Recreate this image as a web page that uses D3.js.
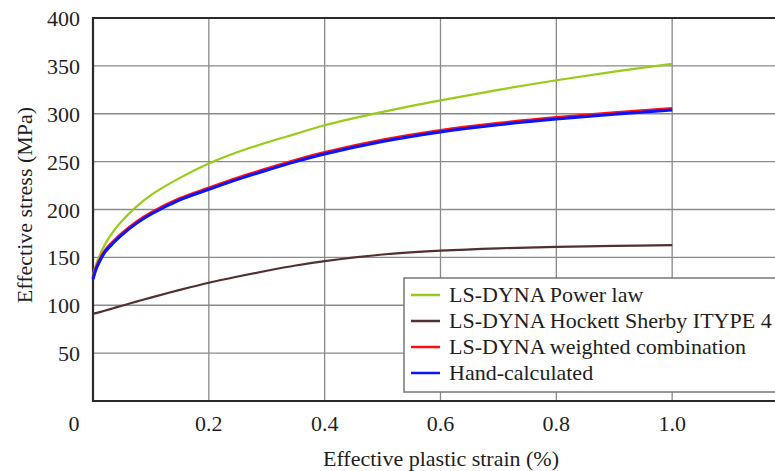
<!DOCTYPE html>
<html>
<head>
<meta charset="utf-8">
<script src="https://cdn.jsdelivr.net/npm/d3@7"></script>
<style>
  body { margin: 0; background: #fff; }
  svg { display: block; }
  text { font-family: "Liberation Serif", "DejaVu Serif", serif; fill: #1e1e1e; }
</style>
</head>
<body>
<svg width="775" height="471"></svg>
<script>
// strain values (%) shared by the curves
var strain = [0, 0.005, 0.01, 0.02, 0.035, 0.05, 0.075, 0.1, 0.15, 0.2, 0.25, 0.3, 0.35, 0.4, 0.5, 0.6, 0.7, 0.8, 0.9, 1.0];
var powerLaw = [132, 142, 150, 163, 177, 188, 203, 215, 233, 248, 260, 270, 279, 288, 302, 314, 325, 335, 344, 352];
var hockett  = [91, 91.8, 92.6, 94.3, 96.9, 99.5, 103.8, 108, 116, 123.5, 130, 136, 141.5, 146, 153, 157, 159.5, 161, 162, 162.8];
var weighted = [128.5, 138.5, 145.5, 156.5, 166.5, 175, 187, 196.5, 211.5, 222.5, 233, 242.5, 251.5, 259.5, 272.5, 282.5, 290, 296, 301, 305.5];
var handCalc = [127, 137, 144, 155, 165, 173.5, 185.5, 195, 210, 221, 231.5, 241, 250, 258, 271, 281, 288.5, 294.5, 299.5, 304];

var seriesNames  = ["LS-DYNA Power law", "LS-DYNA Hockett Sherby ITYPE 4", "LS-DYNA weighted combination", "Hand-calculated"];
var seriesColors = ["#9acb1a", "#52302f", "#ff1010", "#0a14ff"];
var xTicks = [0, 0.2, 0.4, 0.6, 0.8, 1.0];
var xGrid  = [0.2, 0.4, 0.6, 0.8, 1.0, 1.2];
var yTicks = [50, 100, 150, 200, 250, 300, 350, 400];

var svg = d3.select("svg");
var x = d3.scaleLinear().domain([0, 1.2]).range([93, 788]);
var y = d3.scaleLinear().domain([0, 400]).range([401, 18]);

// grid
svg.append("g").selectAll("line").data(yTicks.slice(0, -1)).enter().append("line")
    .attr("x1", x(0)).attr("x2", x(1.2))
    .attr("y1", function (d) { return y(d); }).attr("y2", function (d) { return y(d); })
    .style("stroke", "#8a8a8a").style("stroke-width", "1.3px");
svg.append("g").selectAll("line").data(xGrid).enter().append("line")
    .attr("x1", function (d) { return x(d); }).attr("x2", function (d) { return x(d); })
    .attr("y1", y(400)).attr("y2", y(0))
    .style("stroke", "#8a8a8a").style("stroke-width", "1.3px");

// frame
svg.append("path")
    .attr("d", "M" + x(1.2) + "," + y(400) + "H" + x(0) + "V" + y(0) + "H" + x(1.2))
    .style("fill", "none").style("stroke", "#2a2a2a").style("stroke-width", "2.2px");

// curves
var allSeries = [powerLaw, hockett, weighted, handCalc];
var widths = [2.2, 2.2, 3, 3];
var line = d3.line()
    .x(function (d, i) { return x(strain[i]); })
    .y(function (d) { return y(d); })
    .curve(d3.curveCatmullRom.alpha(0.5));
svg.append("g").selectAll("path").data(allSeries).enter().append("path")
    .attr("d", line)
    .style("fill", "none")
    .style("stroke", function (d, i) { return seriesColors[i]; })
    .style("stroke-width", function (d, i) { return widths[i] + "px"; });

// tick labels
svg.append("g").selectAll("text").data(yTicks).enter().append("text")
    .attr("x", 80).attr("y", function (d) { return y(d) + 8; })
    .attr("text-anchor", "end").style("font-size", "22px")
    .text(function (d) { return d; });
svg.append("g").selectAll("text").data(xTicks).enter().append("text")
    .attr("x", function (d) { return d === 0 ? 74 : x(d); })
    .attr("y", 431)
    .attr("text-anchor", "middle").style("font-size", "22px")
    .text(function (d) { return d === 0 ? "0" : d3.format(".1f")(d); });

// axis titles
svg.append("text").attr("x", 441).attr("y", 466).attr("text-anchor", "middle")
    .style("font-size", "22px").text("Effective plastic strain (%)");
svg.append("text").attr("transform", "translate(32,205) rotate(-90)").attr("text-anchor", "middle")
    .style("font-size", "22px").text("Effective stress (MPa)");

// legend
var legend = svg.append("g");
legend.append("rect").attr("x", 404).attr("y", 278).attr("width", 400).attr("height", 114)
    .style("fill", "#fff").style("stroke", "#777").style("stroke-width", "1.5px");
var rows = legend.selectAll("g.row").data(seriesNames).enter().append("g")
    .attr("transform", function (d, i) { return "translate(0," + (295 + i * 26) + ")"; });
rows.append("line").attr("x1", 411).attr("x2", 440).attr("y1", 0).attr("y2", 0)
    .style("stroke", function (d, i) { return seriesColors[i]; })
    .style("stroke-width", "2.5px");
rows.append("text").attr("x", 449).attr("y", 7).style("font-size", "22px")
    .text(function (d) { return d; });
</script>
</body>
</html>
